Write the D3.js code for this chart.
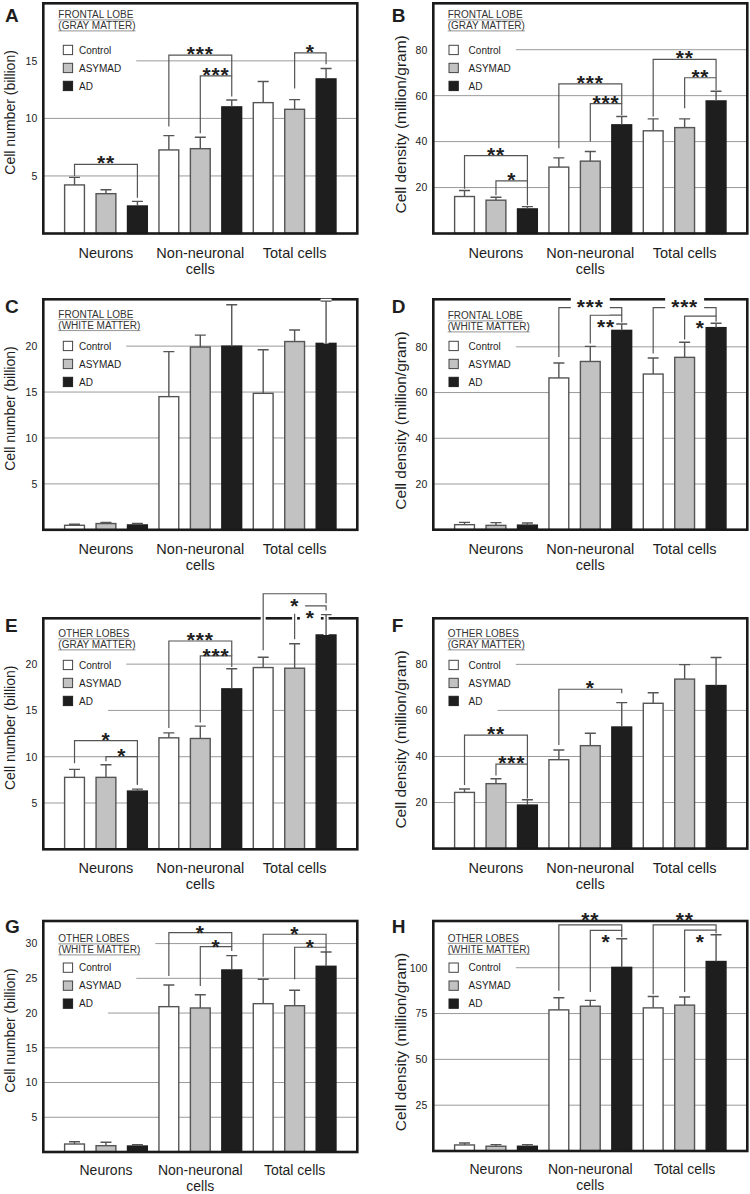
<!DOCTYPE html>
<html><head><meta charset="utf-8">
<script src="https://cdn.jsdelivr.net/npm/d3@7"></script>
<style>
body{margin:0;background:#fff;}
svg text{font-family:"Liberation Sans",Arial,Helvetica,sans-serif;fill:#1e1e1e;}
</style></head><body>
<svg id="chart" width="750" height="1194"></svg>
<script>
// ---------- DATA ----------
const categories = ["Neurons", "Non-neuronal cells", "Total cells"];
const categoryLines = [["Neurons"], ["Non-neuronal", "cells"], ["Total cells"]];
const series = ["Control", "ASYMAD", "AD"];

// rows = series (Control, ASYMAD, AD); columns = categories
const meanA = [[4.22, 7.26, 11.37], [3.46, 7.37, 10.79], [2.39, 11.0, 13.43]];
const semA  = [[0.66, 1.24, 1.83], [0.34, 0.99, 0.84], [0.40, 0.60, 0.90]];
const meanB = [[16.1, 28.9, 44.7], [14.5, 31.5, 46.1], [10.7, 47.3, 57.7]];
const semB  = [[2.6, 4.0, 5.2], [1.3, 4.2, 3.8], [1.0, 3.6, 4.2]];
const meanC = [[0.49, 14.5, 14.86], [0.68, 19.9, 20.5], [0.53, 20.0, 20.3]];
const semC  = [[0.11, 4.9, 4.74], [0.11, 1.3, 1.25], [0.15, 4.5, 4.6]];
const meanD = [[2.2, 66.4, 68.1], [1.9, 73.6, 75.4], [2.0, 87.2, 88.4]];
const semD  = [[1.0, 6.5, 7.0], [1.2, 6.6, 6.6], [0.9, 2.8, 1.9]];
const meanE = [[7.77, 12.04, 19.63], [7.77, 11.97, 19.56], [6.29, 17.33, 23.15]];
const semE  = [[0.86, 0.54, 1.11], [1.36, 1.33, 2.64], [0.21, 2.17, 2.2]];
const meanF = [[24.4, 38.6, 63.1], [28.2, 44.7, 73.6], [18.9, 52.8, 70.8]];
const semF  = [[1.5, 4.2, 4.6], [2.1, 5.4, 6.3], [2.3, 10.6, 12.2]];
const meanG = [[1.15, 20.92, 21.35], [0.91, 20.73, 21.06], [0.86, 26.2, 26.73]];
const semG  = [[0.33, 3.12, 3.51], [0.49, 1.91, 2.22], [0.19, 2.06, 2.06]];
const meanH = [[3.3, 77.0, 78.1], [2.6, 79.0, 79.6], [2.6, 100.2, 103.4]];
const semH  = [[1.1, 6.6, 6.2], [0.9, 3.2, 4.4], [0.9, 15.6, 14.6]];

const ticksA = [5, 10, 15];
const ticksB = [20, 40, 60, 80];
const ticksC = [5, 10, 15, 20];
const ticksD = [20, 40, 60, 80];
const ticksE = [5, 10, 15, 20];
const ticksF = [20, 40, 60, 80];
const ticksG = [5, 10, 15, 20, 25, 30];
const ticksH = [25, 50, 75, 100];

// significance brackets: [category, fromSeries, toSeries, lineValue, leftEnd, rightEnd, label, labelPos, flag, labelShift]
const bracketsA = [
  [0, 0, 2, 6.0, 5.0, 3.1, "**", "above"],
  [1, 0, 2, 15.5, 9.3, 13.7, "***", "above"],
  [1, 1, 2, 13.7, 8.7, 11.9, "***", "above"],
  [2, 1, 2, 15.7, 12.6, 14.7, "*", "above"]
];
const bracketsB = [
  [0, 0, 2, 33.9, 19.5, 22.9, "**", "above"],
  [0, 1, 2, 22.9, 16.6, 12.3, "*", "above"],
  [1, 0, 2, 65.1, 37.1, 56.5, "***", "above"],
  [1, 1, 2, 56.5, 40.0, 51.5, "***", "above"],
  [2, 0, 2, 75.8, 50.9, 67.8, "**", "above"],
  [2, 1, 2, 67.8, 54.5, 62.5, "**", "above"]
];
const bracketsC = [];
const bracketsD = [
  [1, 0, 2, 97.2, 75.6, 93.9, "***", "above", "bg"],
  [1, 1, 2, 93.9, 81.5, 90.6, "**", "below"],
  [2, 0, 2, 97.2, 77.1, 93.4, "***", "above", "bg"],
  [2, 1, 2, 93.4, 83.2, 91.0, "*", "below"]
];
const bracketsE = [
  [0, 0, 2, 11.74, 9.3, 6.96, "*", "above"],
  [0, 1, 2, 10.0, 9.5, 6.96, "*", "above"],
  [1, 0, 2, 22.5, 13.1, 20.9, "***", "above"],
  [1, 1, 2, 20.9, 13.7, 19.7, "***", "above", "", 1.5],
  [2, 0, 2, 27.6, 21.5, 26.3, "*", "below", "halo"],
  [2, 1, 2, 26.3, 22.7, 25.8, "*", "below", "halo"]
];
const bracketsF = [
  [0, 0, 2, 49.3, 27.6, 36.7, "**", "above"],
  [0, 1, 2, 36.7, 31.7, 21.8, "***", "above"],
  [1, 0, 2, 69.2, 45.0, 67.5, "*", "above"]
];
const bracketsG = [
  [1, 0, 2, 31.57, 25.33, 29.55, "*", "above", "", 1],
  [1, 1, 2, 29.55, 23.9, 28.93, "*", "above", "", 1],
  [2, 0, 2, 31.34, 25.23, 29.47, "*", "above", "", 1],
  [2, 1, 2, 29.47, 24.86, 28.6, "*", "above", "", 1]
];
const bracketsH = [
  [1, 0, 2, 123.4, 87.4, 120.4, "**", "above", "", -4],
  [1, 1, 2, 120.4, 86.8, 116.7, "*", "below"],
  [2, 0, 2, 123.4, 85.5, 120.5, "**", "above", "", -4],
  [2, 1, 2, 120.5, 86.8, 118.7, "*", "below"]
];

// ---------- LAYOUT ----------
const panels = [
  {id:"A", mean:meanA, sem:semA, ticks:ticksA, br:bracketsA, yl:"Cell number (billion)", leg:["FRONTAL LOBE","(GRAY MATTER)"], col:0, top:3.3, bottom:233.5, ymax:20, tOff:15, lx:5, ly:21.7, cl:[24, 16, 14.5]},
  {id:"B", mean:meanB, sem:semB, ticks:ticksB, br:bracketsB, yl:"Cell density (million/gram)", leg:["FRONTAL LOBE","(GRAY MATTER)"], col:1, top:3.3, bottom:233.5, ymax:100.2, tOff:15, lx:391.7, ly:21.7, cl:[24, 16, 14.5]},
  {id:"C", mean:meanC, sem:semC, ticks:ticksC, br:bracketsC, yl:"Cell number (billion)", leg:["FRONTAL LOBE","(WHITE MATTER)"], col:0, top:299.3, bottom:529.8, ymax:25.1, tOff:18.7, lx:5, ly:313, cl:[24, 16, 14.5]},
  {id:"D", mean:meanD, sem:semD, ticks:ticksD, br:bracketsD, yl:"Cell density (million/gram)", leg:["FRONTAL LOBE","(WHITE MATTER)"], col:1, top:299.3, bottom:529.7, ymax:100.8, tOff:20, lx:391.7, ly:313, cl:[24, 16, 14.5]},
  {id:"E", mean:meanE, sem:semE, ticks:ticksE, br:bracketsE, yl:"Cell number (billion)", leg:["OTHER LOBES","(GRAY MATTER)"], col:0, top:618.3, bottom:849.3, ymax:24.95, tOff:19, lx:5, ly:631.7, cl:[24, 16, 14.5]},
  {id:"F", mean:meanF, sem:semF, ticks:ticksF, br:bracketsF, yl:"Cell density (million/gram)", leg:["OTHER LOBES","(GRAY MATTER)"], col:1, top:618.3, bottom:848.6, ymax:100, tOff:19, lx:391.7, ly:631.7, cl:[24, 16, 14.5]},
  {id:"G", mean:meanG, sem:semG, ticks:ticksG, br:bracketsG, yl:"Cell number (billion)", leg:["OTHER LOBES","(WHITE MATTER)"], col:0, top:921, bottom:1152, ymax:33.25, tOff:21.3, lx:5, ly:933, cl:[22.5, 16.1, 14]},
  {id:"H", mean:meanH, sem:semH, ticks:ticksH, br:bracketsH, yl:"Cell density (million/gram)", leg:["OTHER LOBES","(WHITE MATTER)"], col:1, top:921, bottom:1151, ymax:125.5, tOff:20.7, lx:391.7, ly:933, cl:[23.3, 16.1, 14]}
];

const colLeft = [43.3, 433.3];
const frameW = 314;
const fills = ["#ffffff", "#c2c2c2", "#1e1e1e"];
const strokes = ["#555555", "#555555", "#1e1e1e"];
const lineCol = "#555555";

const svg = d3.select("#chart");

panels.forEach(p => {
  const L = colLeft[p.col];
  const g = svg.append("g").attr("class", "panel-" + p.id);
  const y = d3.scaleLinear().domain([0, p.ymax]).range([p.bottom, p.top]);
  const x0 = d3.scaleBand().domain(categories).range([L + 15.5, L + 298.5]);
  const x1 = d3.scaleBand().domain(series).range([0, x0.bandwidth()]).paddingInner(0.37).paddingOuter(0.185);
  const bw = x1.bandwidth();
  const cx = (c, s) => x0(categories[c]) + x1(series[s]) + bw / 2;

  const gGrid = g.append("g"), gBars = g.append("g"), gFrame = g.append("g"),
        gErr = g.append("g"), gBrk = g.append("g"), gLeg = g.append("g"), gAx = g.append("g");

  // legend
  const legItems = [];
  const tx = L + (p.col === 0 ? 15 : 14.4);
  p.leg.forEach((t, i) => {
    const yy = p.top + p.tOff + i * 11;
    const tt = gLeg.append("text").attr("x", tx).attr("y", yy).attr("font-size", 10).style("fill", "#333").text(t);
    const w = tt.node().getComputedTextLength();
    gLeg.append("line").attr("x1", tx).attr("x2", tx + w).attr("y1", yy + 1.6).attr("y2", yy + 1.6)
      .attr("stroke", "#777").attr("stroke-width", 0.8);
    legItems.push(tt.node().getBBox());
  });
  const bx = L + (p.col === 0 ? 20 : 15.7);
  const lx = L + (p.col === 0 ? 35.7 : 35.3);
  series.forEach((s, i) => {
    const by = p.top + 42 + i * 18;
    gLeg.append("rect").attr("x", bx).attr("y", by).attr("width", 9.3).attr("height", 9.3)
      .attr("fill", fills[i]).attr("stroke", i === 2 ? "#1e1e1e" : "#444").attr("stroke-width", 1);
    const tt = gLeg.append("text").attr("x", lx).attr("y", by + 8.3).attr("font-size", 10).text(s);
    legItems.push(tt.node().getBBox());
  });

  // gridlines (stop before legend)
  p.ticks.forEach(t => {
    const yy = y(t);
    let xs = L;
    legItems.forEach(b => { if (yy >= b.y - 4 && yy <= b.y + b.height + 4) xs = Math.max(xs, b.x + b.width + 15); });
    gGrid.append("line").attr("x1", xs).attr("x2", L + frameW).attr("y1", yy).attr("y2", yy)
      .attr("stroke", "#9a9a9a").attr("stroke-width", 1);
  });

  // bars
  series.forEach((s, si) => {
    gBars.selectAll(null).data(p.mean[si]).enter().append("rect")
      .attr("x", (d, ci) => x0(categories[ci]) + x1(s))
      .attr("y", d => y(d))
      .attr("width", bw)
      .attr("height", d => y(0) - y(d))
      .attr("fill", fills[si]).attr("stroke", strokes[si]).attr("stroke-width", 1.4);
  });

  // frame
  gFrame.append("rect").attr("x", L).attr("y", p.top).attr("width", frameW).attr("height", p.bottom - p.top)
    .attr("fill", "none").attr("stroke", "#1a1a1a").attr("stroke-width", 2.6);

  // error bars
  series.forEach((s, si) => {
    p.mean[si].forEach((m, ci) => {
      const c = cx(ci, si), y1 = y(m), y2 = y(m + p.sem[si][ci]);
      const path = `M${c},${y1}V${y2}M${c - 5.5},${y2}H${c + 5.5}`;
      if (m + p.sem[si][ci] > p.ymax * 0.99) {
        gErr.append("path").attr("d", path).attr("stroke", "#fff").attr("stroke-width", 5).attr("fill", "none");
      }
      gErr.append("path").attr("d", path).attr("stroke", lineCol).attr("stroke-width", 1.4).attr("fill", "none");
    });
  });

  // brackets
  p.br.forEach(b => {
    const [c, f, t, lv, le, re, lab, pos, flag] = b;
    const xa = cx(c, f), xb = cx(c, t);
    const path = `M${xa},${y(le)}V${y(lv)}H${xb}V${y(re)}`;
    if (flag === "halo") {
      gBrk.append("path").attr("d", path).attr("stroke", "#fff").attr("stroke-width", 5).attr("fill", "none");
    }
    gBrk.append("path").attr("d", path).attr("stroke", lineCol).attr("stroke-width", 1.2).attr("fill", "none");
  });
  p.br.forEach(b => {
    const [c, f, t, lv, le, re, lab, pos, flag, shift] = b;
    const xm = (cx(c, f) + cx(c, t)) / 2;
    const ty = (pos === "above" ? y(lv) + 6 : y(lv) + 19) + (shift || 0);
    const tt = gBrk.append("text").attr("x", xm).attr("y", ty).attr("text-anchor", "middle")
      .attr("font-size", 21).attr("font-weight", "bold").attr("letter-spacing", 0.8).text(lab);
    if (flag === "bg" || flag === "halo") {
      const bb = tt.node().getBBox();
      gBrk.insert("rect", function(){ return tt.node(); })
        .attr("x", bb.x - 6).attr("y", bb.y + 3).attr("width", bb.width + 12).attr("height", bb.height - 6)
        .attr("fill", "#fff");
    }
  });

  // y axis tick labels
  const ax = d3.axisLeft(y).tickValues(p.ticks).tickSize(0).tickPadding(6);
  const ga = gAx.append("g").attr("transform", `translate(${L},0)`).call(ax);
  ga.select(".domain").remove();
  ga.selectAll("text").attr("font-size", 10.5).attr("font-family", null).style("fill", "#222");

  // y label
  const cy = (p.top + p.bottom) / 2 + (p.col === 0 ? -6 : 6);
  gAx.append("text").attr("transform", `translate(${L - 33},${cy}) rotate(-90)`)
    .attr("text-anchor", "middle").attr("dominant-baseline", "central")
    .attr("font-size", p.col === 0 ? 14 : 15.5).text(p.yl);

  // category labels
  categories.forEach((cat, ci) => {
    const t = gAx.append("text").attr("x", x0(cat) + x0.bandwidth() / 2).attr("y", p.bottom + p.cl[0])
      .attr("text-anchor", "middle").attr("font-size", p.cl[2]);
    categoryLines[ci].forEach((ln, li) => {
      t.append("tspan").attr("x", x0(cat) + x0.bandwidth() / 2).attr("dy", li === 0 ? 0 : p.cl[1]).text(ln);
    });
  });

  // panel letter
  g.append("text").attr("x", p.lx).attr("y", p.ly).attr("font-size", 19).attr("font-weight", "bold").text(p.id);
});
</script>
</body></html>
